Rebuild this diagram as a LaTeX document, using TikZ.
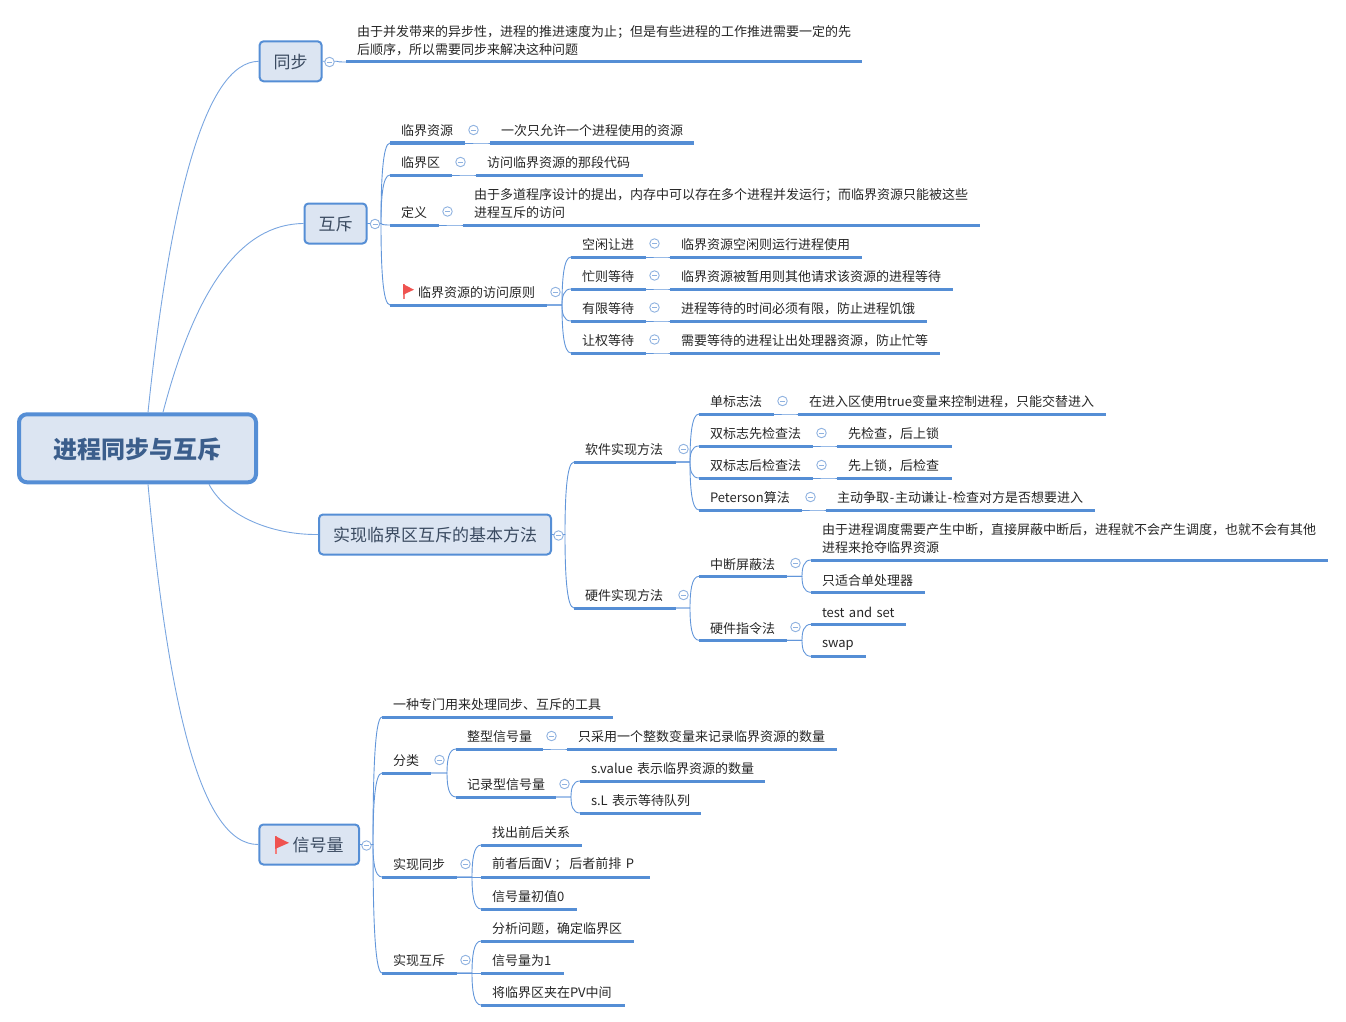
\documentclass[tikz,border=0pt]{standalone}
\usepackage{fontspec}
\setmainfont{Noto Sans CJK SC}
\usepackage{xcolor}
\usetikzlibrary{calc, positioning}

\definecolor{barblue}{HTML}{558ED5}
\definecolor{linkblue}{HTML}{6296DA}
\definecolor{foldblue}{HTML}{8FB2E0}
\definecolor{boxfill}{HTML}{DCE5F2}
\definecolor{boxtext}{HTML}{3A4A60}
\definecolor{roottext}{HTML}{3B5E8C}
\definecolor{flagred}{HTML}{EF5350}

\tikzset{
    rootbox/.style={draw=barblue, fill=boxfill, line width=4pt, rounded corners=8pt, text=roottext, text height=23pt, text depth=3pt, font=\fontsize{24}{28}\selectfont\bfseries},
    midbox/.style={draw=barblue, fill=boxfill, line width=2pt, rounded corners=4pt, text=boxtext, text height=16.5pt, text depth=2pt, font=\fontsize{17}{20}\selectfont, minimum height=40pt},
    topic/.style={anchor=south west, inner xsep=11pt, inner ysep=6pt, align=left, font=\fontsize{13}{18}\selectfont, text=black!85},
    topicbar/.style={draw=barblue, line width=3pt},
    link/.style={draw=linkblue, line width=0.9pt},
    rootlink/.style={draw=linkblue!85, line width=0.9pt},
    fold/.style={circle, draw=foldblue, fill=white, line width=0.9pt, minimum size=9.5pt, inner sep=0pt,
        path picture={\draw[foldblue, line width=0.9pt] ([xshift=-2.5pt]path picture bounding box.center) -- ([xshift=2.5pt]path picture bounding box.center);}},
}

% 带下划线的主题: 名字, 左端, 右端, 线的高度, 文字
\newcommand{\topicnode}[5]{
    \pgfmathsetmacro{\topicw}{#3-#2-22}
    \node[topic, text width=\topicw pt, outer sep=0pt] (#1) at (#2,#4) {#5};
    \draw[topicbar] (#1.south west) -- (#1.south east);
}
% 分支曲线
\newcommand{\branch}[2]{
    \draw[link] let \p1=(#1), \p2=(#2) in (\p1) -- (\x2-9pt,\y1)
        .. controls (\x2-9pt,{(\y1+\y2)/2}) and (\x2-7.5pt,\y2) .. (\p2);
}
% 小红旗
\newcommand{\flagmark}[4]{
    \fill[flagred!75] (#1,#2) rectangle (#1+2,#4);
    \fill[flagred] (#1,#2) -- (#3,{#2+0.38*(#4-#2)}) -- (#1,{#2+0.72*(#4-#2)}) -- cycle;
}

\begin{document}
\begin{tikzpicture}[x=1pt, y=-1pt]
    \useasboundingbox (0,0) rectangle (1346,1022);

    % 中心主题与四个分支
    \node[rootbox, minimum width=237pt, minimum height=68pt] (root) at (137.5,448.3) {进程同步与互斥};
    \node[midbox, minimum width=62pt] (sync) at (290.6,61.3) {同步};
    \node[midbox, minimum width=62pt] (mutex) at (335.5,223.5) {互斥};
    \node[midbox, minimum width=232pt] (basic) at (435,534.5) {实现临界区互斥的基本方法};
    \node[midbox, minimum width=99.7pt] (sema) at (309.2,844.5) {\hspace*{18pt}信号量};

    \draw[rootlink] ([xshift=10.5pt]root.north) .. controls (170,200) and (205,62) .. (sync.west);
    \draw[rootlink] ([xshift=25.5pt]root.north) .. controls (195,290) and (240,224) .. (mutex.west);
    \draw[rootlink] ([xshift=71.5pt]root.south) .. controls (225,515) and (270,535) .. (basic.west);
    \draw[rootlink] ([xshift=10.5pt]root.south) .. controls (168,700) and (200,845) .. (sema.west);

    % 同步
    \topicnode{syncnote}{346}{862}{62}{由于并发带来的异步性，进程的推进速度为止；但是有些进程的工作推进需要一定的先\\后顺序，所以需要同步来解决这种问题}
    \branch{sync.east}{syncnote.south west}

    % 互斥
    \topicnode{crit}{390}{465}{143}{临界资源}
    \topicnode{critnote}{490}{694}{143}{一次只允许一个进程使用的资源}
    \topicnode{sect}{390}{452}{175}{临界区}
    \topicnode{sectnote}{476}{643}{175}{访问临界资源的那段代码}
    \topicnode{defn}{390}{439}{225}{定义}
    \topicnode{defnnote}{463}{980}{225}{由于多道程序设计的提出，内存中可以存在多个进程并发运行；而临界资源只能被这些\\进程互斥的访问}
    \topicnode{rule}{390}{547}{305}{\hspace*{17pt}临界资源的访问原则}
    \flagmark{403}{284}{414}{299}
    \topicnode{idle}{571}{646}{257}{空闲让进}
    \topicnode{idlenote}{670}{862}{257}{临界资源空闲则运行进程使用}
    \topicnode{busy}{571}{646}{289}{忙则等待}
    \topicnode{busynote}{670}{953}{289}{临界资源被暂用则其他请求该资源的进程等待}
    \topicnode{limit}{571}{646}{321}{有限等待}
    \topicnode{limitnote}{670}{927}{321}{进程等待的时间必须有限，防止进程饥饿}
    \topicnode{yield}{571}{646}{353}{让权等待}
    \topicnode{yieldnote}{670}{940}{353}{需要等待的进程让出处理器资源，防止忙等}
    \foreach \kid in {crit, sect, defn, rule} {\branch{mutex.east}{\kid.south west}}
    \branch{crit.south east}{critnote.south west}
    \branch{sect.south east}{sectnote.south west}
    \branch{defn.south east}{defnnote.south west}
    \foreach \kid in {idle, busy, limit, yield} {
        \branch{rule.south east}{\kid.south west}
        \branch{\kid.south east}{\kid note.south west}
    }

    % 基本方法
    \topicnode{soft}{574}{676}{462}{软件实现方法}
    \topicnode{hard}{574}{676}{608}{硬件实现方法}
    \topicnode{single}{699}{774}{414}{单标志法}
    \topicnode{singlenote}{798}{1106}{414}{在进入区使用true变量来控制进程，只能交替进入}
    \topicnode{dualpre}{699}{813}{446}{双标志先检查法}
    \topicnode{dualprenote}{837}{952}{446}{先检查，后上锁}
    \topicnode{dualpost}{699}{813}{478}{双标志后检查法}
    \topicnode{dualpostnote}{837}{952}{478}{先上锁，后检查}
    \topicnode{peter}{699}{802}{510}{Peterson算法}
    \topicnode{peternote}{826}{1095}{510}{主动争取\kern.8pt-\kern.8pt主动谦让\kern.8pt-\kern.8pt检查对方是否想要进入}
    \topicnode{intr}{699}{787}{576.3}{中断屏蔽法}
    \topicnode{intrnote}{811}{1328}{560}{由于进程调度需要产生中断，直接屏蔽中断后，进程就不会产生调度，也就不会有其他\\进程来抢夺临界资源}
    \topicnode{intrcpu}{811}{925}{592.3}{只适合单处理器}
    \topicnode{instr}{699}{787}{640.3}{硬件指令法}
    \topicnode{tas}{811}{906}{624.3}{test and set\vphantom{临}}
    \topicnode{swap}{811}{866}{656.3}{swap}
    \branch{basic.east}{soft.south west}
    \branch{basic.east}{hard.south west}
    \foreach \kid in {single, dualpre, dualpost, peter} {
        \branch{soft.south east}{\kid.south west}
        \branch{\kid.south east}{\kid note.south west}
    }
    \branch{hard.south east}{intr.south west}
    \branch{hard.south east}{instr.south west}
    \branch{intr.south east}{intrnote.south west}
    \branch{intr.south east}{intrcpu.south west}
    \branch{instr.south east}{tas.south west}
    \branch{instr.south east}{swap.south west}

    % 信号量
    \flagmark{275}{836}{289}{854}
    \topicnode{tool}{382}{613}{717}{一种专门用来处理同步、互斥的工具}
    \topicnode{kind}{382}{431}{773}{分类}
    \topicnode{intsem}{456}{543}{749}{整型信号量}
    \topicnode{intsemnote}{567}{837}{749}{只采用一个整数变量来记录临界资源的数量}
    \topicnode{recsem}{456}{556}{797}{记录型信号量}
    \topicnode{svalue}{580}{765}{781}{\mbox{s.value 表示临界资源的数量}}
    \topicnode{slist}{580}{701}{813}{\mbox{s.L 表示等待队列}}
    \topicnode{dosync}{382}{457}{877}{实现同步}
    \topicnode{order}{481}{582}{845}{找出前后关系}
    \topicnode{vp}{481}{650}{877}{\mbox{前者后面V\kern3pt；\kern2pt 后者前排 P}}
    \topicnode{zero}{481}{577}{909}{信号量初值0}
    \topicnode{domutex}{382}{457}{973}{实现互斥}
    \topicnode{analyse}{481}{634}{941}{分析问题，确定临界区}
    \topicnode{one}{481}{564}{973}{信号量为1}
    \topicnode{wrap}{481}{625}{1005}{将临界区夹在PV中间}
    \foreach \kid in {tool, kind, dosync, domutex} {\branch{sema.east}{\kid.south west}}
    \branch{kind.south east}{intsem.south west}
    \branch{kind.south east}{recsem.south west}
    \branch{intsem.south east}{intsemnote.south west}
    \branch{recsem.south east}{svalue.south west}
    \branch{recsem.south east}{slist.south west}
    \foreach \kid in {order, vp, zero} {\branch{dosync.south east}{\kid.south west}}
    \foreach \kid in {analyse, one, wrap} {\branch{domutex.south east}{\kid.south west}}

    % 折叠按钮
    \foreach \fx/\fy [count=\i] in {329.5/62, 375/224, 473.5/130, 460.5/162, 447.5/211.5, 555.5/292, 654.5/243.5, 654.5/275.5, 654.5/307.5, 654.5/339.5,
        558.5/535.5, 683.5/449, 683.5/595, 782.5/401, 821.5/433, 821.5/465, 810.5/497, 795.5/563, 795.5/627,
        366.5/845.5, 439.5/760, 551.5/736, 564.5/784, 465.5/864, 465.5/960}
        \node[fold] (fold\i) at (\fx,\fy) {};
\end{tikzpicture}
\end{document}
